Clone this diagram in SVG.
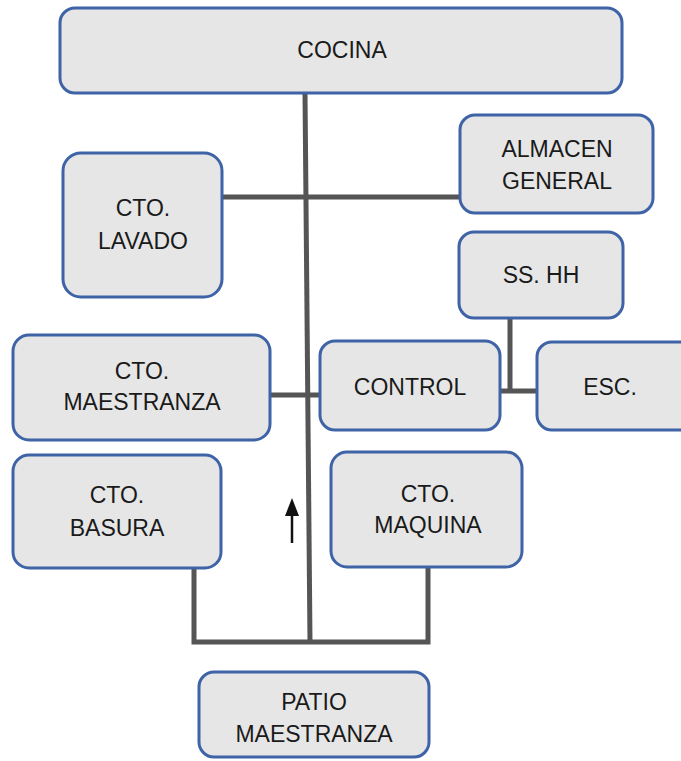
<svg xmlns="http://www.w3.org/2000/svg" width="681" height="761" viewBox="0 0 681 761">
  <defs>
    <style>
      .box { fill: #e6e6e6; stroke: #3e63a6; stroke-width: 3; }
      .lbl { font-family: "Liberation Sans", "DejaVu Sans", sans-serif; font-size: 23px; fill: #1a1a1a; text-anchor: middle; }
      .wire { fill: none; stroke: #555555; stroke-width: 5; stroke-linejoin: miter; }
    </style>
  </defs>
  <rect width="681" height="761" fill="#ffffff"/>

  <!-- connectors -->
  <g id="connectors">
    <path class="wire" d="M305,93 L310,642"/>
    <path class="wire" d="M222,197 L460,197"/>
    <path class="wire" d="M270,395 L320,395"/>
    <path class="wire" d="M510,318 L510,391"/>
    <path class="wire" d="M500,391 L537,391"/>
    <path class="wire" d="M194,568 L194,642 L428,642 L428,567"/>
    <!-- upward flow arrow -->
    <line x1="292" y1="543" x2="292" y2="512" stroke="#111111" stroke-width="2.5"/>
    <polygon points="285,516 292,498 299,516" fill="#111111"/>
  </g>

  <g id="cocina">
    <rect class="box" x="60" y="8" width="562" height="85" rx="15"/>
    <text class="lbl" x="342" y="58">COCINA</text>
  </g>

  <g id="almacen-general">
    <rect class="box" x="460" y="115" width="193" height="98" rx="15"/>
    <text class="lbl" x="557" y="157">ALMACEN</text>
    <text class="lbl" x="557" y="189">GENERAL</text>
  </g>

  <g id="cto-lavado">
    <rect class="box" x="63" y="153" width="159" height="144" rx="18"/>
    <text class="lbl" x="143" y="216">CTO.</text>
    <text class="lbl" x="143" y="249">LAVADO</text>
  </g>

  <g id="ss-hh">
    <rect class="box" x="459" y="232" width="164" height="86" rx="15"/>
    <text class="lbl" x="541" y="283">SS. HH</text>
  </g>

  <g id="cto-maestranza">
    <rect class="box" x="13" y="335" width="257" height="105" rx="16"/>
    <text class="lbl" x="142" y="379">CTO.</text>
    <text class="lbl" x="142" y="410">MAESTRANZA</text>
  </g>

  <g id="control">
    <rect class="box" x="320" y="341" width="180" height="89" rx="15"/>
    <text class="lbl" x="410" y="395">CONTROL</text>
  </g>

  <g id="esc">
    <rect class="box" x="537" y="342" width="160" height="88" rx="15"/>
    <text class="lbl" x="610" y="395">ESC.</text>
  </g>

  <g id="cto-basura">
    <rect class="box" x="13" y="455" width="208" height="113" rx="16"/>
    <text class="lbl" x="117" y="503">CTO.</text>
    <text class="lbl" x="117" y="536">BASURA</text>
  </g>

  <g id="cto-maquina">
    <rect class="box" x="331" y="452" width="191" height="115" rx="16"/>
    <text class="lbl" x="428" y="502">CTO.</text>
    <text class="lbl" x="428" y="533">MAQUINA</text>
  </g>

  <g id="patio-maestranza">
    <rect class="box" x="199" y="672" width="230" height="85" rx="15"/>
    <text class="lbl" x="314" y="710">PATIO</text>
    <text class="lbl" x="314" y="742">MAESTRANZA</text>
  </g>
</svg>
